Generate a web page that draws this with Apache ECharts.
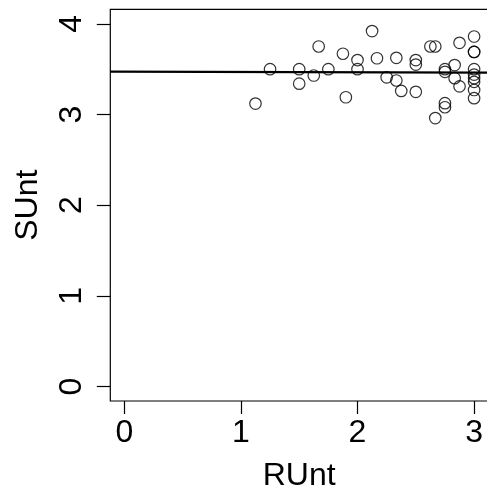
<!DOCTYPE html>
<html>
<head>
<meta charset="utf-8">
<script src="https://cdn.jsdelivr.net/npm/echarts@6/dist/echarts.min.js"></script>
<style>html,body{margin:0;padding:0;background:#fff}#c{width:487px;height:495px}</style>
</head>
<body>
<div id="c"></div>
<script>
var runt = [1.125, 1.25, 1.5, 1.5, 1.625, 1.667, 1.75, 1.875, 1.9, 2.0, 2.0, 2.125, 2.167, 2.25, 2.333, 2.333, 2.375, 2.5, 2.5, 2.5, 2.625, 2.667, 2.667, 2.75, 2.75, 2.75, 2.75, 2.833, 2.833, 2.875, 2.875, 3, 3, 3, 3, 3, 3, 3, 3, 3];
var sunt = [3.12, 3.50, 3.50, 3.34, 3.43, 3.75, 3.50, 3.67, 3.19, 3.60, 3.50, 3.92, 3.62, 3.41, 3.625, 3.375, 3.26, 3.60, 3.55, 3.25, 3.75, 3.75, 2.96, 3.50, 3.47, 3.125, 3.08, 3.545, 3.40, 3.79, 3.31, 3.86, 3.69, 3.69, 3.50, 3.44, 3.40, 3.36, 3.27, 3.18];
var lineX = [-0.12, 3.12];
var lineY = [3.473, 3.461];
var xTicks = [0, 1, 2, 3];
var yTicks = [0, 1, 2, 3, 4];
var xName = 'RUnt';
var yName = 'SUnt';

var pts = runt.map(function (x, i) { return [x, sunt[i]]; });
var linePts = lineX.map(function (x, i) { return [x, lineY[i]]; });
var FONT = 'Liberation Sans';

var chart = echarts.init(document.getElementById('c'), null, {renderer: 'canvas'});
chart.setOption({
  animation: false,
  backgroundColor: '#fff',
  grid: {left: 110.3, top: 9.3, bottom: 94, right: -1.1, containLabel: false, outerBoundsMode: 'none',
         show: true, borderColor: '#000', borderWidth: 1.2, backgroundColor: 'transparent'},
  xAxis: {
    type: 'value', min: -0.12, max: 3.12,
    name: xName, nameLocation: 'middle', nameGap: 59,
    nameTextStyle: {fontFamily: FONT, fontSize: 32, color: '#000'},
    axisLine: {show: false, onZero: false},
    splitLine: {show: false},
    axisTick: {show: true, inside: false, customValues: xTicks, length: 13, lineStyle: {color: '#000', width: 1.2}},
    axisLabel: {customValues: xTicks, margin: 16, fontFamily: FONT, fontSize: 32, color: '#000'}
  },
  yAxis: {
    type: 'value', min: -0.16, max: 4.16,
    name: yName, nameLocation: 'middle', nameGap: 66, nameRotate: 90,
    nameTextStyle: {fontFamily: FONT, fontSize: 32, color: '#000'},
    axisLine: {show: false, onZero: false},
    splitLine: {show: false},
    axisTick: {show: true, inside: false, customValues: yTicks, length: 13.5, lineStyle: {color: '#000', width: 1.2}},
    axisLabel: {customValues: yTicks, rotate: 90, margin: 22, fontFamily: FONT, fontSize: 32, color: '#000'}
  },
  series: [
    {
      type: 'scatter', data: pts, symbol: 'circle', symbolSize: 11.5,
      itemStyle: {color: 'rgba(0,0,0,0)', borderColor: '#000', borderWidth: 1.2}
    },
    {
      type: 'line', data: linePts, symbol: 'none', clip: true,
      lineStyle: {color: '#000', width: 2.2}
    }
  ]
});
</script>
</body>
</html>
